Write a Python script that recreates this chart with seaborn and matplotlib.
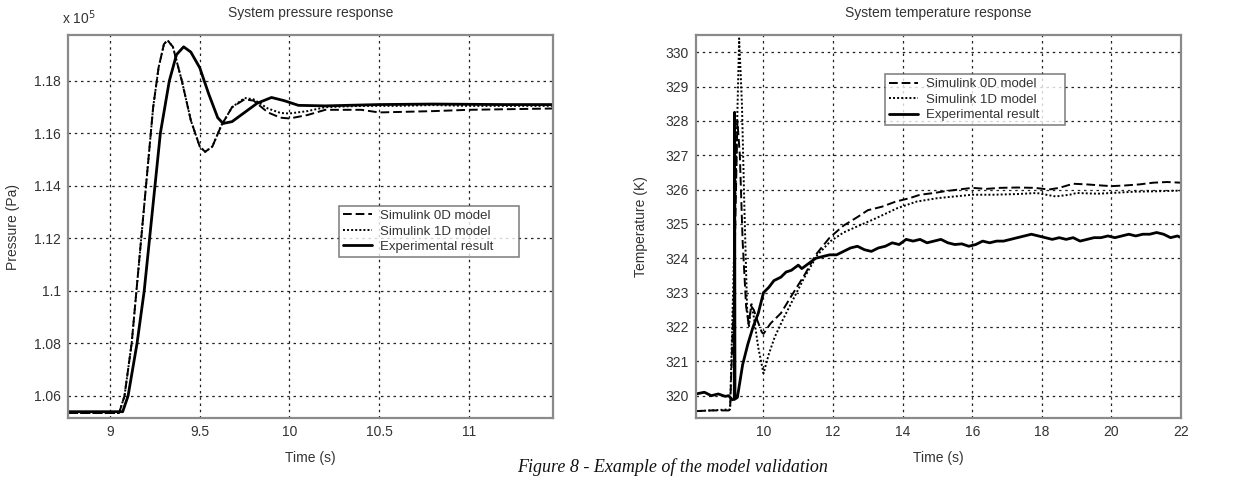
import numpy as np
import pandas as pd
import matplotlib
matplotlib.use('Agg')
import matplotlib.pyplot as plt
import seaborn as sns
from matplotlib.ticker import FixedLocator, FormatStrFormatter

sns.set_style('white')
plt.rcParams['font.family'] = ['Liberation Sans Narrow', 'Liberation Sans', 'DejaVu Sans']

# pressure response, time in s, pressure in 1e5 Pa
p_t_0d = [8.765, 9.05, 9.08, 9.12, 9.16, 9.2, 9.24, 9.27, 9.3, 9.32, 9.35, 9.4, 9.45, 9.5, 9.53,
          9.57, 9.62, 9.68, 9.75, 9.8, 9.88, 9.95, 10.0, 10.1, 10.2, 10.4, 10.5, 10.8, 11.0, 11.47]
p_0d = [1.0535, 1.0535, 1.060, 1.080, 1.110, 1.140, 1.170, 1.185, 1.194, 1.1955, 1.193, 1.180, 1.165, 1.155, 1.153,
        1.155, 1.163, 1.170, 1.173, 1.1725, 1.168, 1.166, 1.1657, 1.167, 1.169, 1.169, 1.168, 1.1685, 1.169, 1.1695]
p_t_1d = [8.765, 9.05, 9.08, 9.12, 9.16, 9.2, 9.24, 9.27, 9.3, 9.32, 9.35, 9.4, 9.45, 9.5, 9.53,
          9.57, 9.62, 9.68, 9.75, 9.8, 9.88, 9.95, 10.0, 10.1, 10.2, 10.4, 10.6, 10.8, 11.0, 11.47]
p_1d = [1.0535, 1.0535, 1.060, 1.080, 1.110, 1.140, 1.170, 1.185, 1.194, 1.1955, 1.193, 1.180, 1.165, 1.155, 1.153,
        1.155, 1.163, 1.170, 1.1735, 1.173, 1.1695, 1.1678, 1.1676, 1.1685, 1.170, 1.1705, 1.1705, 1.1708, 1.1705, 1.1705]
p_t_exp = [8.765, 9.07, 9.1, 9.15, 9.19, 9.22, 9.25, 9.28, 9.33, 9.37, 9.41, 9.45, 9.5, 9.55, 9.6, 9.63,
           9.68, 9.75, 9.82, 9.9, 9.97, 10.05, 10.2, 10.5, 10.8, 11.2, 11.47]
p_exp = [1.054, 1.054, 1.060, 1.080, 1.100, 1.120, 1.140, 1.160, 1.180, 1.190, 1.193, 1.191, 1.185, 1.175, 1.166, 1.1638,
         1.1645, 1.168, 1.1715, 1.1737, 1.1725, 1.1707, 1.1705, 1.171, 1.1712, 1.171, 1.171]

# temperature response, time in s, temperature in K
t_t_0d = [8.06, 8.5, 9.0, 9.04, 9.15, 9.25, 9.32, 9.4, 9.5, 9.57, 9.65, 9.72, 9.82, 9.95, 10.0, 10.2, 10.5,
          10.8, 11.2, 11.5, 11.9, 12.3, 12.7, 13.0, 13.4, 13.8, 14.2, 14.5, 14.9, 15.2, 15.6, 16.0, 16.4,
          16.8, 17.3, 17.8, 18.2, 18.5, 18.9, 19.3, 19.7, 20.0, 20.4, 20.8, 21.2, 21.6, 22.0]
t_0d = [319.55, 319.57, 319.57, 319.6, 323.0, 328.0, 327.0, 324.5, 322.6, 322.1, 322.6, 322.5, 322.2, 321.85, 321.8, 322.1, 322.4,
        322.9, 323.55, 324.1, 324.6, 324.95, 325.2, 325.4, 325.5, 325.65, 325.75, 325.85, 325.9, 325.95, 326.0, 326.05, 326.02,
        326.05, 326.06, 326.05, 326.0, 326.05, 326.17, 326.15, 326.12, 326.1, 326.12, 326.15, 326.2, 326.22, 326.2]
t_t_1d = [8.06, 9.04, 9.15, 9.3, 9.38, 9.45, 9.53, 9.58, 9.65, 9.72, 9.85, 10.0, 10.15, 10.32, 10.55, 10.8,
          11.18, 11.55, 11.93, 12.3, 12.7, 13.2, 13.85, 14.4, 15.0, 15.5, 16.0, 16.6, 17.3, 17.85, 18.4,
          18.8, 19.0, 19.6, 20.0, 20.7, 21.3, 22.0]
t_1d = [319.55, 319.6, 324.0, 330.4, 328.5, 325.5, 322.5, 322.0, 322.7, 322.3, 321.4, 320.65, 321.2, 321.7, 322.2, 322.7,
        323.45, 324.1, 324.5, 324.75, 324.93, 325.15, 325.46, 325.65, 325.75, 325.8, 325.85, 325.85, 325.87, 325.9, 325.8,
        325.85, 325.9, 325.88, 325.9, 325.94, 325.95, 325.97]
t_t_exp = [8.06, 8.3, 8.5, 8.7, 8.9, 9.0, 9.1, 9.16, 9.17, 9.18, 9.25, 9.4, 9.55, 9.7, 9.85, 10.0, 10.15, 10.3,
           10.5, 10.65, 10.8, 11.0, 11.1, 11.3, 11.5, 11.7, 11.9, 12.1, 12.3, 12.5, 12.7, 12.9, 13.1, 13.3,
           13.5, 13.7, 13.9, 14.1, 14.3, 14.5, 14.7, 14.9, 15.1, 15.3, 15.5, 15.7, 15.9, 16.1, 16.3, 16.5,
           16.7, 16.9, 17.1, 17.3, 17.5, 17.7, 17.9, 18.1, 18.3, 18.5, 18.7, 18.9, 19.1, 19.3, 19.5, 19.7,
           19.9, 20.1, 20.3, 20.5, 20.7, 20.9, 21.1, 21.3, 21.5, 21.7, 21.9, 22.0]
t_exp = [320.05, 320.1, 320.0, 320.05, 319.98, 320.0, 319.88, 319.9, 328.25, 319.9, 319.95, 320.9, 321.5, 322.0, 322.4, 323.0, 323.15, 323.35,
         323.45, 323.6, 323.65, 323.8, 323.7, 323.85, 324.0, 324.05, 324.1, 324.1, 324.2, 324.3, 324.35, 324.25, 324.2, 324.3,
         324.35, 324.45, 324.4, 324.55, 324.5, 324.55, 324.45, 324.5, 324.55, 324.45, 324.4, 324.42, 324.35, 324.4, 324.5, 324.45,
         324.5, 324.5, 324.55, 324.6, 324.65, 324.7, 324.65, 324.6, 324.55, 324.6, 324.55, 324.6, 324.5, 324.55, 324.6, 324.6,
         324.65, 324.6, 324.65, 324.7, 324.65, 324.7, 324.7, 324.75, 324.7, 324.6, 324.65, 324.6]

labels = ['Simulink 0D model', 'Simulink 1D model', 'Experimental result']
p_xticks = [9, 9.5, 10, 10.5, 11]
p_yticks = [1.06, 1.08, 1.1, 1.12, 1.14, 1.16, 1.18]
t_xticks = [10, 12, 14, 16, 18, 20, 22]
t_yticks = [320, 321, 322, 323, 324, 325, 326, 327, 328, 329, 330]

styles = [dict(linestyle=(0, (4.5, 2)), linewidth=1.4),
          dict(linestyle=(0, (1, 1.1)), linewidth=1.4),
          dict(linestyle='-', linewidth=2.0)]
txt = '#333333'


def style_axes(ax, xticks, yticks):
    ax.xaxis.set_major_locator(FixedLocator(xticks))
    ax.yaxis.set_major_locator(FixedLocator(yticks))
    ax.yaxis.set_major_formatter(FormatStrFormatter('%g'))
    ax.xaxis.set_major_formatter(FormatStrFormatter('%g'))
    ax.grid(True, color='#222222', linestyle=(0, (2, 3)), linewidth=0.9)
    for s in ax.spines.values():
        s.set_color('#8a8a8a')
        s.set_linewidth(1.6)
    ax.tick_params(labelsize=10, colors=txt, length=3, direction='in', pad=5)


fig = plt.figure(figsize=(12.45, 4.78), dpi=100)
ax1 = fig.add_axes([68 / 1245, 1 - 418 / 478, 485 / 1245, 383 / 478])
ax2 = fig.add_axes([696 / 1245, 1 - 418 / 478, 485 / 1245, 383 / 478])

for x, y, lab, st in zip([p_t_0d, p_t_1d, p_t_exp], [p_0d, p_1d, p_exp], labels, styles):
    sns.lineplot(x=x, y=y, ax=ax1, color='black', label=lab, estimator=None, sort=False, **st)
for x, y, lab, st in zip([t_t_0d, t_t_1d, t_t_exp], [t_0d, t_1d, t_exp], labels, styles):
    sns.lineplot(x=x, y=y, ax=ax2, color='black', label=lab, estimator=None, sort=False, **st)

ax1.set_xlim(8.765, 11.47)
ax1.set_ylim(1.0516, 1.1975)
ax2.set_xlim(8.06, 22)
ax2.set_ylim(319.35, 330.5)
style_axes(ax1, p_xticks, p_yticks)
style_axes(ax2, t_xticks, t_yticks)

ax1.set_title('System pressure response', fontsize=10, color=txt, pad=13)
ax2.set_title('System temperature response', fontsize=10, color=txt, pad=13)
ax1.text(-0.012, 1.022, r'x 10$^5$', transform=ax1.transAxes, fontsize=10, color=txt, ha='left', va='bottom')
for ax, yl in [(ax1, 'Pressure (Pa)'), (ax2, 'Temperature (K)')]:
    ax.set_xlabel('Time (s)', fontsize=10, color=txt)
    ax.set_ylabel(yl, fontsize=10, color=txt)
    ax.yaxis.set_label_coords(-0.099, 0.5)
    ax.xaxis.set_label_coords(0.5, -0.085)

for ax, bbox in [(ax1, (0.559, 0.397, 0.37, 0.157)), (ax2, (0.389, 0.742, 0.371, 0.156))]:
    leg = ax.legend(loc='upper left', bbox_to_anchor=bbox, mode='expand', fontsize=9.5, frameon=True,
                    fancybox=False, borderaxespad=0, handlelength=2.2, labelspacing=0.25,
                    borderpad=0.3, handletextpad=0.6)
    leg.get_frame().set_edgecolor('#666666')
    leg.get_frame().set_linewidth(1.2)
    for t in leg.get_texts():
        t.set_color(txt)

fig.text(0.54, 0.004, 'Figure 8 - Example of the model validation', fontsize=13,
         family='Liberation Serif', style='italic', ha='center', va='bottom', color='#111111')

fig.savefig('out.png', dpi=100)
